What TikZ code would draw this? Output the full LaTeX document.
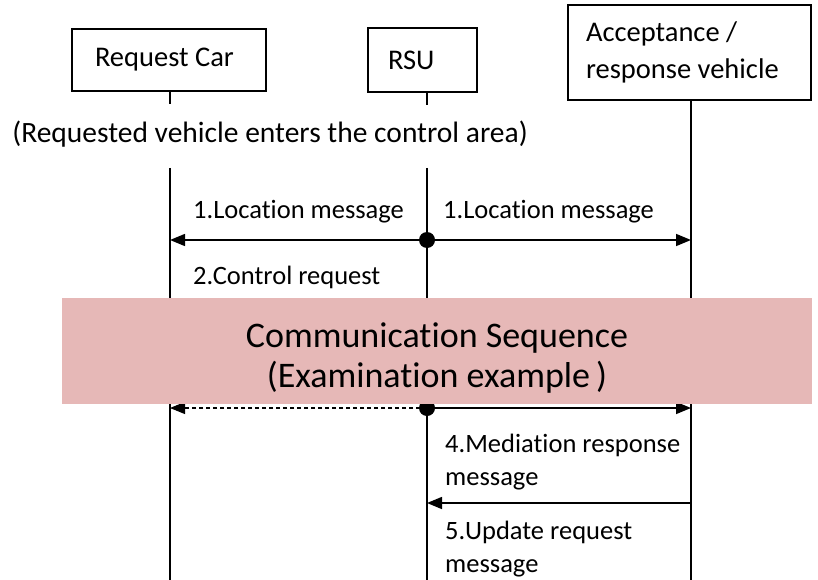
\documentclass[tikz,border=0pt]{standalone}
\usepackage{fontspec}
\setmainfont{Carlito}[Ligatures=NoCommon]
\usetikzlibrary{arrows.meta}
\definecolor{bandpink}{HTML}{E6B8B7}
\begin{document}
\begin{tikzpicture}[x=1pt,y=-1pt,
  actor/.style={draw,line width=1.8pt,inner ysep=0pt,align=flush left,font=\fontsize{28.5}{37}\selectfont},
  life/.style={line width=1.8pt},
  msg/.style={line width=1.5pt,-{Triangle[length=15pt,width=12pt]}},
  dashmsg/.style={msg,line width=1.1pt,dash pattern=on 4pt off 3pt},
  lbl/.style={inner sep=0pt,anchor=west,align=flush left,font=\fontsize{26.5}{33}\selectfont},
  hub/.style={circle,fill,inner sep=0pt,minimum size=16pt}]
\useasboundingbox (0,0) rectangle (818,580);
% participants
\node[actor,inner xsep=23pt,text width=148pt,minimum height=62pt] (car) at (169,60) {Request Car};
\node[actor,inner xsep=20pt,text width=69pt,minimum height=64pt] (rsu) at (422.5,60) {RSU};
\node[actor,inner xsep=18pt,text width=207pt,minimum height=95pt] (acc) at (689.5,52.5) {Acceptance /\\response vehicle};
% lifeline axes
\coordinate (carX) at (170,0);
\coordinate (rsuX) at (427,0);
\coordinate (accX) at (691,0);
% lifelines
\draw[life] (car.south -| carX) -- ++(0,12);
\draw[life] (rsu.south -| rsuX) -- ++(0,12);
\draw[life] (carX |- 0,168) -- (carX |- 0,585);
\draw[life] (rsuX |- 0,168) -- (rsuX |- 0,585);
\draw[life] (acc.south -| accX) -- (accX |- 0,585);
\node[inner sep=0pt,font=\fontsize{29.5}{35}\selectfont] (note) at (270,134) {(Requested vehicle enters the control area)};
% 1. location message broadcast
\node[hub] (d1) at (rsuX |- 0,240) {};
\draw[msg] (d1.center) -- (d1 -| carX);
\draw[msg] (d1.center) -- (d1 -| accX);
\node[lbl] (l1a) at (193,212) {1.Location message};
\node[lbl] (l1b) at (443,212) {1.Location message};
\node[lbl] (l2) at (193,277) {2.Control request};
% 3. step partly under the band
\node[hub] (d3) at (rsuX |- 0,408) {};
\draw[dashmsg] (d3.center) -- (d3 -| carX);
\draw[msg] (d3.center) -- (d3 -| accX);
% 4. mediation response
\coordinate (a4) at (accX |- 0,503);
\draw[msg] (a4) -- (a4 -| rsuX);
\node[lbl] (l4) at (445,462) {4.Mediation response\\message};
\node[lbl] (l5) at (445,549) {5.Update request\\message};
% overlay band
\node[fill=bandpink,minimum width=750pt,minimum height=106pt,inner sep=0pt,anchor=north west] (band) at (62,298) {};
\node[inner sep=0pt,align=center,font=\fontsize{36}{40}\selectfont] (bandtext) at (437,358) {Communication Sequence\\(Examination example\,)};
\end{tikzpicture}
\end{document}
